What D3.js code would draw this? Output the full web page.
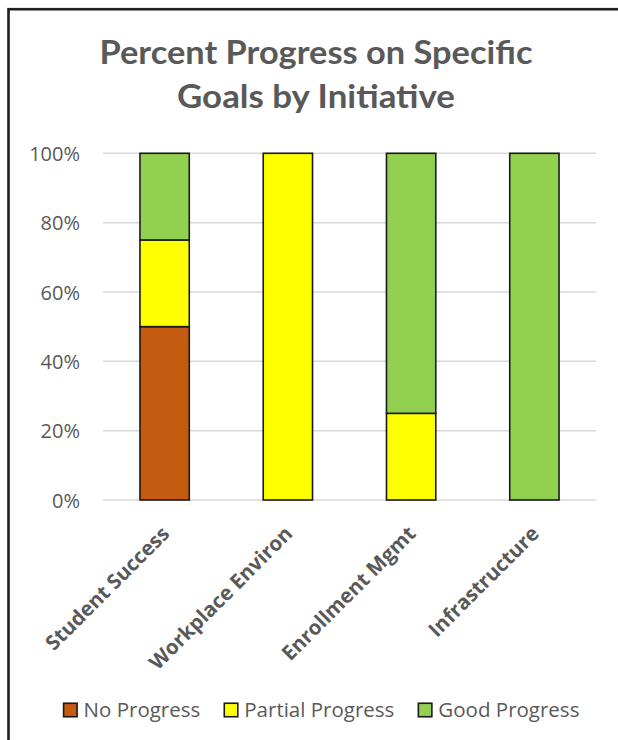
<!DOCTYPE html>
<html>
<head>
<meta charset="utf-8">
<script src="https://cdn.jsdelivr.net/npm/d3@7"></script>
<style>
  html, body { margin: 0; padding: 0; background: #fff; }
  svg { display: block; }
</style>
</head>
<body>
<svg id="chart" width="618" height="740"></svg>
<script>
// ---- data ----
const categories = ["Student Success", "Workplace Environ", "Enrollment Mgmt", "Infrastructure"];
const seriesNames = ["No Progress", "Partial Progress", "Good Progress"];
const noProgress      = [0.50, 0.00, 0.00, 0.00];
const partialProgress = [0.25, 1.00, 0.25, 0.00];
const goodProgress    = [0.25, 0.00, 0.75, 1.00];
const seriesColors = ["#C55A11", "#FFFF00", "#92D050"];
const yTicks = [0, 0.2, 0.4, 0.6, 0.8, 1.0];
const titleLines = ["Percent Progress on Specific", "Goals by Initiative"];

// ---- layout ----
const svg = d3.select("#chart");
const plot = { left: 103, right: 596, top: 153.3, bottom: 500 };
const textColor = "#595959";

// frame (chart area border, cropped at right/bottom)
svg.append("rect")
  .attr("x", 8.5).attr("y", 9.2)
  .attr("width", 700).attr("height", 800)
  .attr("fill", "none")
  .attr("stroke", "#1f1f1f")
  .attr("stroke-width", 2.6);

// title
const titleWidths = [433, 278];
titleLines.forEach((t, i) => {
  svg.append("text")
    .attr("x", 316)
    .attr("y", 64 + i * 44)
    .attr("text-anchor", "middle")
    .attr("font-family", "Lato, 'Open Sans', sans-serif")
    .attr("font-weight", "bold")
    .attr("font-size", 32)
    .attr("fill", textColor)
    .attr("textLength", titleWidths[i])
    .attr("lengthAdjust", "spacingAndGlyphs")
    .text(t);
});

// scales
const x = d3.scaleBand().domain(categories).range([plot.left, plot.right]).padding(0);
const y = d3.scaleLinear().domain([0, 1]).range([plot.bottom, plot.top]);
const barW = x.bandwidth() * 0.4;

// gridlines
svg.append("g")
  .selectAll("line")
  .data(yTicks)
  .join("line")
  .attr("x1", plot.left).attr("x2", plot.right)
  .attr("y1", d => y(d)).attr("y2", d => y(d))
  .attr("stroke", "#d9d9d9")
  .attr("stroke-width", 1.5);

// y axis labels
const yAxis = d3.axisLeft(y).tickValues(yTicks).tickFormat(d3.format(".0%")).tickSize(0).tickPadding(0);
const yg = svg.append("g").attr("transform", `translate(80,0)`).call(yAxis);
yg.select(".domain").remove();
yg.selectAll("text")
  .attr("font-family", "'Open Sans', sans-serif")
  .attr("font-size", 20)
  .attr("fill", textColor)
  .attr("dy", "0.36em");

// stacked data
const table = categories.map((c, i) => ({
  category: c,
  "No Progress": noProgress[i],
  "Partial Progress": partialProgress[i],
  "Good Progress": goodProgress[i]
}));
const stacked = d3.stack().keys(seriesNames)(table);

const barsG = svg.append("g");
stacked.forEach((layer, si) => {
  barsG.append("g")
    .selectAll("rect")
    .data(layer.filter(d => d[1] - d[0] > 0))
    .join("rect")
    .attr("x", d => x(d.data.category) + (x.bandwidth() - barW) / 2)
    .attr("y", d => y(d[1]))
    .attr("width", barW)
    .attr("height", d => y(d[0]) - y(d[1]))
    .attr("fill", seriesColors[si])
    .attr("stroke", "#1a1a1a")
    .attr("stroke-width", 1.6);
});

// category labels
svg.append("g")
  .selectAll("text")
  .data(categories)
  .join("text")
  .attr("transform", d => `translate(${x(d) + x.bandwidth() / 2 + 6},535) rotate(-45)`)
  .attr("text-anchor", "end")
  .attr("font-family", "'Open Sans', sans-serif")
  .attr("font-weight", "bold")
  .attr("font-size", 20.5)
  .attr("fill", textColor)
  .text(d => d);

// legend
const legend = svg.append("g");
const sq = 13.5, gap = 6.5, itemGap = 24;
let cx = 0;
seriesNames.forEach((name, i) => {
  const g = legend.append("g");
  g.append("rect")
    .attr("x", 0).attr("y", -sq / 2)
    .attr("width", sq).attr("height", sq)
    .attr("fill", seriesColors[i])
    .attr("stroke", "#1a1a1a")
    .attr("stroke-width", 1.6);
  const t = g.append("text")
    .attr("x", sq + gap)
    .attr("y", 0)
    .attr("dy", "0.35em")
    .attr("font-family", "'Open Sans', sans-serif")
    .attr("font-size", 20.5)
    .attr("fill", textColor)
    .text(name);
  const w = sq + gap + t.node().getComputedTextLength();
  g.attr("transform", `translate(${cx},0)`);
  cx += w + itemGap;
});
const total = cx - itemGap;
legend.attr("transform", `translate(${321.5 - total / 2},710)`);
</script>
</body>
</html>
